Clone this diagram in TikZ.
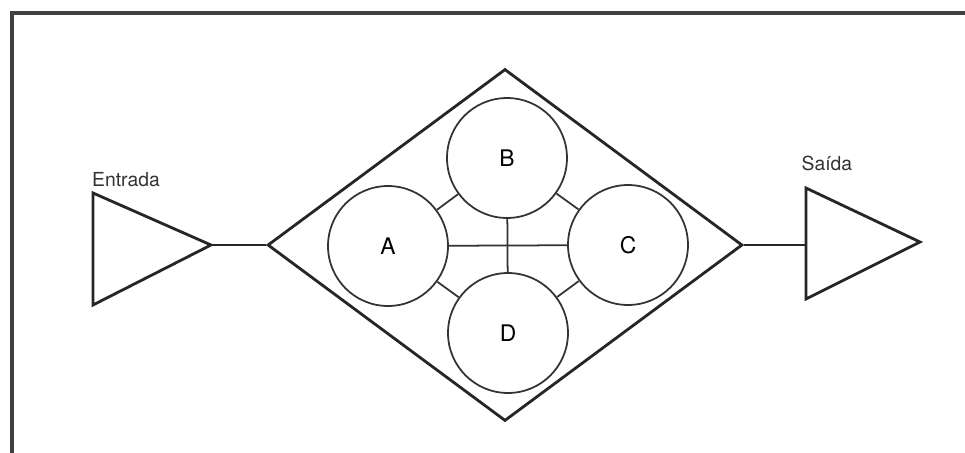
\documentclass[tikz,border=0pt]{standalone}
\usepackage{fontspec}
\setmainfont{TeX Gyre Heros}
\usetikzlibrary{shapes.geometric}

\begin{document}
\begin{tikzpicture}[
        x=0.02cm, y=-0.02cm,
        frame/.style={draw=black!75, line width=2.2pt},
        outline/.style={draw=black!85, line width=1.6pt, line join=miter},
        unit/.style={circle, draw=black!80, line width=1pt, minimum size=2.4cm,
          inner sep=0pt, font=\fontsize{13}{15}\selectfont},
        link/.style={draw=black!80, line width=1pt},
        tag/.style={font=\fontsize{11}{13}\selectfont, text=black!80},
      ]

      \useasboundingbox (0,0) rectangle (965,453);
      \draw[frame] (12,453) -- (12,13) -- (965,13);

      \node[diamond, outline, minimum width=9.5cm, minimum height=7.04cm,
        inner sep=0pt] (sys) at (505,245) {};

      \node[unit] (A) at (388,246) {A};
      \node[unit] (B) at (507,158) {B};
      \node[unit] (C) at (628,245) {C};
      \node[unit] (D) at (508,333) {D};

      \coordinate (inTop) at (93,193);
      \coordinate (inBot) at (93,305);
      \coordinate (inTip) at (211,245);
      \coordinate (outTop) at (806,188);
      \coordinate (outBot) at (806,299);
      \coordinate (outTip) at (920,242);
      \coordinate (outBase) at (806,245);

      \draw[outline] (inTop) -- (inTip) -- (inBot) -- cycle;
      \draw[outline] (outTop) -- (outTip) -- (outBot) -- cycle;

      \node[tag, anchor=south west] (inLabel) at ([xshift=-4] inTop) {Entrada};
      \node[tag, anchor=south west] (outLabel) at ([xshift=-6,yshift=6] outTop) {Saída};

      \path[outline] (inTip) edge (sys.west)
      (sys.east) edge (outBase);

      \path[link]
      (A) edge (C)
      (B) edge (D)
      (A) edge (B)
      (B) edge (C)
      (A) edge (D)
      (D) edge (C);

    \end{tikzpicture}
\end{document}
